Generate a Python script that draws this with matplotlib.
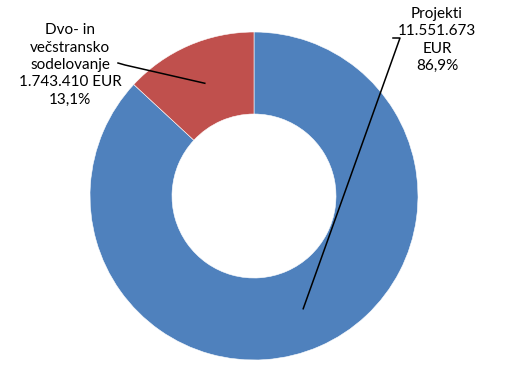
import numpy as np
import matplotlib
matplotlib.use("Agg")
import matplotlib.pyplot as plt

# data
labels = ["Projekti", "Dvo- in\nvečstransko\nsodelovanje"]
amounts = ["11.551.673\nEUR", "1.743.410 EUR"]
shares = [86.9, 13.1]
colors = ["#4F81BD", "#C0504D"]

plt.rcParams["font.family"] = ["Lato", "DejaVu Sans"]

W, H = 509, 390
fig = plt.figure(figsize=(W / 100, H / 100), dpi=100)
ax = fig.add_axes([0, 0, 1, 1])

cx, cy, r = 254, H - 196, 164
wedges, _ = ax.pie(
    shares,
    colors=colors,
    startangle=90,
    counterclock=False,
    radius=r,
    center=(cx, cy),
    wedgeprops=dict(width=r * 0.5, edgecolor="white", linewidth=0.4),
    frame=True,
)
ax.set_xlim(0, W)
ax.set_ylim(0, H)
ax.axis("off")

# label text positions and line start points (pixel coords from top)
text_pos = [(437, 40), (70, 65)]
line_start = [[(393, 38), (400, 38)], [(118, 63), (125, 65)]]

for i, w in enumerate(wedges):
    pct = f"{shares[i]:.1f}%".replace(".", ",")
    txt = f"{labels[i]}\n{amounts[i]}\n{pct}"
    tx, ty = text_pos[i]
    ax.text(tx, H - ty, txt, ha="center", va="center", fontsize=11,
            linespacing=1.3, color="black")
    mid = np.deg2rad((w.theta1 + w.theta2) / 2)
    rr = r * 0.75
    ex, ey = cx + rr * np.cos(mid), cy + rr * np.sin(mid)
    xs = [p[0] for p in line_start[i]] + [ex]
    ys = [H - p[1] for p in line_start[i]] + [ey]
    ax.plot(xs, ys, color="black", linewidth=1.1)

fig.savefig("out.png", dpi=100)
